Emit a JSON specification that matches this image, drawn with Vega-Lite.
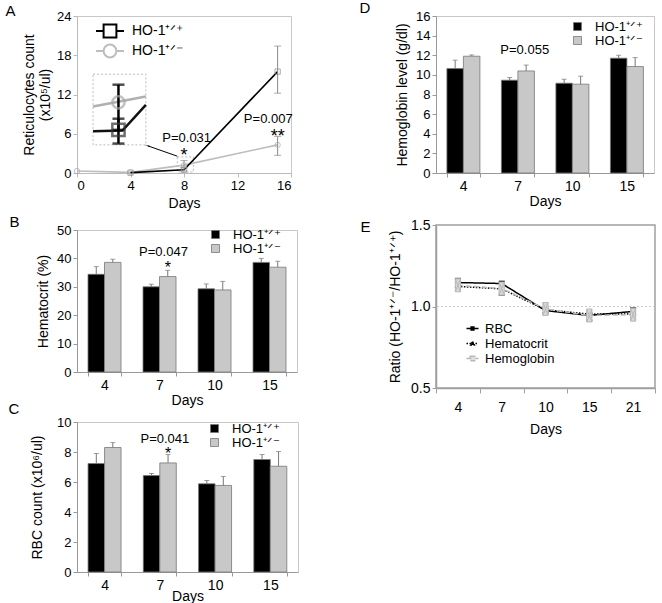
{
 "$schema": "https://vega.github.io/schema/vega-lite/v6.json",
 "background": "white",
 "padding": {"left": 5, "top": 0, "right": 5, "bottom": 0},
 "config": {
  "font": "Liberation Sans",
  "view": {"stroke": "#c8c8c8", "strokeWidth": 1},
  "axis": {"labelFontSize": 14, "titleFontSize": 14, "titleFontWeight": "normal", "labelColor": "#000", "titleColor": "#000", "domainColor": "#999", "tickColor": "#999", "grid": false, "tickSize": 4, "labelPadding": 2, "labelOverlap": false},
  "axisY": {"labelOverlap": false},
  "legend": {"labelFontSize": 14, "labelColor": "#000"},
  "title": {"fontSize": 15, "fontWeight": "normal", "anchor": "start", "frame": "bounds", "color": "#000"},
  "text": {"font": "Liberation Sans"}
 },
 "resolve": {"scale": {"color": "independent", "shape": "independent", "strokeDash": "independent"}},
 "datasets": {
  "retic": [
   {"day": 0, "group": "HO-1+/-", "value": 0.3},
   {"day": 4, "group": "HO-1+/+", "value": 0.05},
   {"day": 4, "group": "HO-1+/-", "value": 0.1},
   {"day": 8, "group": "HO-1+/+", "value": 0.5, "lower": 0.3, "upper": 0.8},
   {"day": 8, "group": "HO-1+/-", "value": 1.2, "lower": 0.8, "upper": 1.9},
   {"day": 15, "group": "HO-1+/+", "value": 15.5, "lower": 12.2, "upper": 19.4},
   {"day": 15, "group": "HO-1+/-", "value": 4.3, "lower": 2.7, "upper": 5.6}
  ],
  "inset_lines": [
   {"day": 1.2, "group": "HO-1+/-", "value": 10.15},
   {"day": 5.15, "group": "HO-1+/-", "value": 11.7},
   {"day": 1.2, "group": "HO-1+/+", "value": 6.4},
   {"day": 3.4, "group": "HO-1+/+", "value": 6.5},
   {"day": 5.15, "group": "HO-1+/+", "value": 10.4}
  ],
  "inset_points": [
   {"day": 3.1, "group": "HO-1+/-", "value": 10.8},
   {"day": 3.1, "group": "HO-1+/+", "value": 6.6}
  ],
  "inset_errors": [
   {"day": 3.1, "lower": 4.5, "upper": 13.5},
   {"day": 3.1, "lower": 6.6, "upper": 8.3}
  ],
  "inset_boxes": [
   {"day": 1.2, "day2": 5.15, "value": 4.3, "value2": 15.1},
   {"day": 7.5, "day2": 8.7, "value": 0.15, "value2": 2.46}
  ],
  "arrow": [
   {"day": 7.5, "value": 2.57, "day2": 5.3, "value2": 4.15}
  ],
  "notes_a": [
   {"day": 8.2, "value": 5.3, "label": "P=0.031"},
   {"day": 14.3, "value": 8.2, "label": "P=0.007"}
  ],
  "stars_a": [
   {"day": 8.0, "value": 3.9, "label": "*"},
   {"day": 15.0, "value": 6.9, "label": "**"}
  ],
  "hct": [
   {"day": "4", "group": "HO-1+/+", "mean": 34.4, "upper": 37.1},
   {"day": "4", "group": "HO-1+/-", "mean": 38.6, "upper": 39.7},
   {"day": "7", "group": "HO-1+/+", "mean": 30.0, "upper": 30.9},
   {"day": "7", "group": "HO-1+/-", "mean": 33.6, "upper": 35.8},
   {"day": "10", "group": "HO-1+/+", "mean": 29.3, "upper": 31.0},
   {"day": "10", "group": "HO-1+/-", "mean": 28.9, "upper": 31.9},
   {"day": "15", "group": "HO-1+/+", "mean": 38.6, "upper": 40.0},
   {"day": "15", "group": "HO-1+/-", "mean": 36.9, "upper": 39.0}
  ],
  "rbc": [
   {"day": "4", "group": "HO-1+/+", "mean": 7.23, "upper": 7.9},
   {"day": "4", "group": "HO-1+/-", "mean": 8.3, "upper": 8.63},
   {"day": "7", "group": "HO-1+/+", "mean": 6.43, "upper": 6.57},
   {"day": "7", "group": "HO-1+/-", "mean": 7.27, "upper": 7.83},
   {"day": "10", "group": "HO-1+/+", "mean": 5.88, "upper": 6.1},
   {"day": "10", "group": "HO-1+/-", "mean": 5.77, "upper": 6.37},
   {"day": "15", "group": "HO-1+/+", "mean": 7.5, "upper": 7.83},
   {"day": "15", "group": "HO-1+/-", "mean": 7.05, "upper": 8.03}
  ],
  "hgb": [
   {"day": "4", "group": "HO-1+/+", "mean": 10.64, "upper": 11.5},
   {"day": "4", "group": "HO-1+/-", "mean": 11.9, "upper": 12.03},
   {"day": "7", "group": "HO-1+/+", "mean": 9.46, "upper": 9.73},
   {"day": "7", "group": "HO-1+/-", "mean": 10.4, "upper": 11.0},
   {"day": "10", "group": "HO-1+/+", "mean": 9.15, "upper": 9.56},
   {"day": "10", "group": "HO-1+/-", "mean": 9.05, "upper": 9.87},
   {"day": "15", "group": "HO-1+/+", "mean": 11.7, "upper": 12.0},
   {"day": "15", "group": "HO-1+/-", "mean": 10.85, "upper": 11.76}
  ],
  "ratio": [
   {"day": "4", "measure": "RBC", "value": 1.147, "lower": 1.12, "upper": 1.17},
   {"day": "7", "measure": "RBC", "value": 1.141, "lower": 1.072, "upper": 1.153},
   {"day": "10", "measure": "RBC", "value": 0.975, "lower": 0.96, "upper": 0.99},
   {"day": "15", "measure": "RBC", "value": 0.945, "lower": 0.914, "upper": 0.96},
   {"day": "21", "measure": "RBC", "value": 0.97, "lower": 0.95, "upper": 0.99},
   {"day": "4", "measure": "Hematocrit", "value": 1.123},
   {"day": "7", "measure": "Hematocrit", "value": 1.108},
   {"day": "10", "measure": "Hematocrit", "value": 0.98},
   {"day": "15", "measure": "Hematocrit", "value": 0.953},
   {"day": "21", "measure": "Hematocrit", "value": 0.955},
   {"day": "4", "measure": "Hemoglobin", "value": 1.13},
   {"day": "7", "measure": "Hemoglobin", "value": 1.11},
   {"day": "10", "measure": "Hemoglobin", "value": 0.985},
   {"day": "15", "measure": "Hemoglobin", "value": 0.945},
   {"day": "21", "measure": "Hemoglobin", "value": 0.95}
  ]
 },
 "hconcat": [
  {
   "spacing": 57,
   "bounds": "flush",
   "resolve": {"scale": {"color": "independent", "shape": "independent"}},
   "vconcat": [
    {
     "width": 214, "height": 157,
     "title": {"text": "A", "dx": -17, "offset": -9},
     "encoding": {
      "x": {"field": "day", "type": "quantitative", "title": "Days", "scale": {"domain": [0, 16]}, "axis": {"values": [0, 4, 8, 12, 16], "domainColor": "#bbb", "tickColor": "#bbb", "titlePadding": 4, "labelFontSize": 13, "labelOverlap": false}},
      "y": {"field": "value", "type": "quantitative", "title": ["Reticulocytes count", "(x10⁵/ul)"], "scale": {"domain": [0, 24]}, "axis": {"values": [0, 6, 12, 18, 24], "domainColor": "#bbb", "tickColor": "#bbb", "titlePadding": 4, "labelFontSize": 13, "labelOverlap": false}}
     },
     "layer": [
      {
       "data": {"name": "inset_boxes"},
       "mark": {"type": "rect", "fill": null, "stroke": "#aaa", "strokeWidth": 0.8, "strokeDash": [2, 2]},
       "encoding": {
        "x2": {"field": "day2"},
        "y2": {"field": "value2"}
       }
      },
      {
       "data": {"name": "retic"},
       "mark": {"type": "line", "strokeWidth": 1.6},
       "encoding": {
        "color": {"field": "group", "type": "nominal", "scale": {"domain": ["HO-1+/+", "HO-1+/-"], "range": ["#000000", "#bdbdbd"]},
         "legend": {"orient": "none", "legendX": 24, "legendY": 6, "title": null, "symbolSize": 256, "symbolStrokeWidth": 2, "labelOffset": 13, "rowPadding": -10, "labelFontSize": 14,
          "labelExpr": "datum.label == 'HO-1+/+' ? 'HO-1⁺ᐟ⁺' : 'HO-1⁺ᐟ⁻'",
          "encode": {"symbols": {"update": {"shape": {"signal": "datum.value == 'HO-1+/+' ? 'M-1.75,0H-0.8M0.8,0H1.75M-0.8,-0.8H0.8V0.8H-0.8Z' : 'M-1.75,0H-0.8M0.8,0H1.75M0.8,0A0.8,0.8,0,1,1,-0.8,0A0.8,0.8,0,1,1,0.8,0'"}, "fill": {"value": "transparent"}, "strokeWidth": {"value": 2}}}}}}
       }
      },
      {
       "data": {"name": "retic"},
       "mark": {"type": "errorbar", "ticks": {"size": 7}, "color": "#888"},
       "encoding": {
        "y": {"field": "lower", "type": "quantitative", "title": ["Reticulocytes count", "(x10⁵/ul)"]},
        "y2": {"field": "upper"}
       }
      },
      {
       "data": {"name": "retic"},
       "transform": [{"filter": "datum.group == 'HO-1+/+'"}],
       "mark": {"type": "point", "shape": "square", "size": 28, "filled": false, "strokeWidth": 1, "color": "#888"}
      },
      {
       "data": {"name": "retic"},
       "transform": [{"filter": "datum.group == 'HO-1+/-'"}],
       "mark": {"type": "point", "shape": "circle", "size": 28, "filled": false, "strokeWidth": 1, "color": "#aaa"}
      },
      {
       "data": {"name": "inset_lines"},
       "transform": [{"filter": "datum.group == 'HO-1+/-'"}],
       "mark": {"type": "line", "strokeWidth": 2.5, "color": "#b0b0b0"}
      },
      {
       "data": {"name": "inset_lines"},
       "transform": [{"filter": "datum.group == 'HO-1+/+'"}],
       "mark": {"type": "line", "strokeWidth": 2.5, "color": "#111"}
      },
      {
       "data": {"name": "inset_errors"},
       "mark": {"type": "errorbar", "ticks": {"size": 12, "thickness": 2.5}, "rule": {"strokeWidth": 2.5}, "color": "#000"},
       "encoding": {
        "y": {"field": "lower", "type": "quantitative", "title": ["Reticulocytes count", "(x10⁵/ul)"]},
        "y2": {"field": "upper"}
       }
      },
      {
       "data": {"name": "inset_points"},
       "transform": [{"filter": "datum.group == 'HO-1+/-'"}],
       "mark": {"type": "point", "shape": "circle", "size": 150, "filled": false, "strokeWidth": 2.5, "color": "#a8a8a8"}
      },
      {
       "data": {"name": "inset_points"},
       "transform": [{"filter": "datum.group == 'HO-1+/+'"}],
       "mark": {"type": "point", "shape": "square", "size": 150, "filled": false, "strokeWidth": 2.5, "color": "#333"}
      },
      {
       "data": {"name": "arrow"},
       "mark": {"type": "rule", "color": "#000", "strokeWidth": 1},
       "encoding": {
        "x2": {"field": "day2"},
        "y2": {"field": "value2"}
       }
      },
      {
       "data": {"name": "arrow"},
       "mark": {"type": "point", "shape": "wedge", "size": 40, "filled": true, "color": "#000", "angle": 288},
       "encoding": {
        "x": {"field": "day2", "type": "quantitative", "title": "Days"},
        "y": {"field": "value2", "type": "quantitative", "title": ["Reticulocytes count", "(x10⁵/ul)"]}
       }
      },
      {
       "data": {"name": "notes_a"},
       "mark": {"type": "text", "fontSize": 13, "baseline": "middle", "align": "center"},
       "encoding": {
        "text": {"field": "label"}
       }
      },
      {
       "data": {"name": "stars_a"},
       "mark": {"type": "text", "fontSize": 18, "baseline": "top", "align": "center"},
       "encoding": {
        "text": {"field": "label"}
       }
      }
     ]
    },
    {
     "spacing": 50,
     "bounds": "flush",
     "resolve": {"scale": {"color": "independent"}},
     "vconcat": [
      {
       "width": 220, "height": 142,
       "title": {"text": "B", "dx": -27, "offset": -6},
       "data": {"name": "hct"},
       "encoding": {
        "x": {"field": "day", "type": "ordinal", "sort": ["4", "7", "10", "15"], "scale": {"paddingInner": 0.4, "paddingOuter": 0.2}, "axis": {"title": "Days", "labelAngle": 0, "tickBand": "extent", "titlePadding": 1}},
        "y": {"field": "mean", "type": "quantitative", "title": "Hematocrit (%)", "scale": {"domain": [0, 50]}, "axis": {"values": [0, 10, 20, 30, 40, 50], "titlePadding": 6, "labelOverlap": false, "labelFontSize": 13}}
       },
       "layer": [
        {
         "mark": {"type": "bar", "stroke": "#777", "strokeWidth": 0.8},
         "encoding": {
          "xOffset": {"field": "group", "type": "nominal", "sort": ["HO-1+/+", "HO-1+/-"]},
          "color": {"field": "group", "type": "nominal", "scale": {"domain": ["HO-1+/+", "HO-1+/-"], "range": ["#000000", "#c8c8c8"]},
           "legend": {"orient": "none", "legendX": 132, "legendY": -2, "title": null, "symbolType": "square", "symbolSize": 64, "symbolStrokeColor": "#777", "symbolStrokeWidth": 0.8, "labelOffset": 11, "labelFontSize": 13, "rowPadding": -1,
            "labelExpr": "datum.label == 'HO-1+/+' ? 'HO-1⁺ᐟ⁺' : 'HO-1⁺ᐟ⁻'"}}
         }
        },
        {
         "mark": {"type": "rule", "color": "#777"},
         "encoding": {
          "xOffset": {"field": "group", "type": "nominal", "sort": ["HO-1+/+", "HO-1+/-"]},
          "y2": {"field": "upper"}
         }
        },
        {
         "mark": {"type": "tick", "color": "#777", "size": 5, "thickness": 1},
         "encoding": {
          "xOffset": {"field": "group", "type": "nominal", "sort": ["HO-1+/+", "HO-1+/-"]},
          "y": {"field": "upper", "type": "quantitative", "title": "Hematocrit (%)", "scale": {"domain": [0, 50]}, "axis": {"values": [0, 10, 20, 30, 40, 50], "titlePadding": 6, "labelOverlap": false, "labelFontSize": 13}}
         }
        },
        {
         "data": {"values": [{"day": "7", "mean": 42.3, "label": "P=0.047"}]},
         "mark": {"type": "text", "fontSize": 13, "baseline": "middle", "dx": 4},
         "encoding": {
          "text": {"field": "label"}
         }
        },
        {
         "data": {"values": [{"day": "7", "group": "HO-1+/-", "mean": 39.3, "label": "*"}]},
         "mark": {"type": "text", "fontSize": 16, "baseline": "top"},
         "encoding": {
          "xOffset": {"field": "group", "type": "nominal", "sort": ["HO-1+/+", "HO-1+/-"]},
          "text": {"field": "label"}
         }
        }
       ]
      },
      {
       "width": 221, "height": 150,
       "title": {"text": "C", "dx": -22, "offset": -1},
       "data": {"name": "rbc"},
       "encoding": {
        "x": {"field": "day", "type": "ordinal", "sort": ["4", "7", "10", "15"], "scale": {"paddingInner": 0.4, "paddingOuter": 0.2}, "axis": {"title": "Days", "labelAngle": 0, "tickBand": "extent", "titlePadding": -3}},
        "y": {"field": "mean", "type": "quantitative", "title": "RBC count  (x10⁶/ul)", "scale": {"domain": [0, 10]}, "axis": {"values": [0, 2, 4, 6, 8, 10], "titlePadding": 12, "labelOverlap": false, "labelFontSize": 13}}
       },
       "layer": [
        {
         "mark": {"type": "bar", "stroke": "#777", "strokeWidth": 0.8},
         "encoding": {
          "xOffset": {"field": "group", "type": "nominal", "sort": ["HO-1+/+", "HO-1+/-"]},
          "color": {"field": "group", "type": "nominal", "scale": {"domain": ["HO-1+/+", "HO-1+/-"], "range": ["#000000", "#c8c8c8"]},
           "legend": {"orient": "none", "legendX": 131, "legendY": 0, "title": null, "symbolType": "square", "symbolSize": 64, "symbolStrokeColor": "#777", "symbolStrokeWidth": 0.8, "labelOffset": 11, "labelFontSize": 13, "rowPadding": -1,
            "labelExpr": "datum.label == 'HO-1+/+' ? 'HO-1⁺ᐟ⁺' : 'HO-1⁺ᐟ⁻'"}}
         }
        },
        {
         "mark": {"type": "rule", "color": "#777"},
         "encoding": {
          "xOffset": {"field": "group", "type": "nominal", "sort": ["HO-1+/+", "HO-1+/-"]},
          "y2": {"field": "upper"}
         }
        },
        {
         "mark": {"type": "tick", "color": "#777", "size": 5, "thickness": 1},
         "encoding": {
          "xOffset": {"field": "group", "type": "nominal", "sort": ["HO-1+/+", "HO-1+/-"]},
          "y": {"field": "upper", "type": "quantitative", "title": "RBC count  (x10⁶/ul)", "scale": {"domain": [0, 10]}, "axis": {"values": [0, 2, 4, 6, 8, 10], "titlePadding": 12, "labelOverlap": false, "labelFontSize": 13}}
         }
        },
        {
         "data": {"values": [{"day": "7", "mean": 8.9, "label": "P=0.041"}]},
         "mark": {"type": "text", "fontSize": 13, "baseline": "middle", "dx": 5},
         "encoding": {
          "text": {"field": "label"}
         }
        },
        {
         "data": {"values": [{"day": "7", "group": "HO-1+/-", "mean": 8.4, "label": "*"}]},
         "mark": {"type": "text", "fontSize": 16, "baseline": "top"},
         "encoding": {
          "xOffset": {"field": "group", "type": "nominal", "sort": ["HO-1+/+", "HO-1+/-"]},
          "text": {"field": "label"}
         }
        }
       ]
      }
     ]
    }
   ]
  },
  {
   "spacing": 52,
   "bounds": "flush",
   "resolve": {"scale": {"color": "independent", "shape": "independent", "strokeDash": "independent"}},
   "vconcat": [
    {
     "width": 218, "height": 157,
     "title": {"text": "D", "dx": -36, "offset": -6},
     "data": {"name": "hgb"},
     "encoding": {
      "x": {"field": "day", "type": "ordinal", "sort": ["4", "7", "10", "15"], "scale": {"paddingInner": 0.4, "paddingOuter": 0.2}, "axis": {"title": "Days", "labelAngle": 0, "tickBand": "extent", "titlePadding": 1}},
      "y": {"field": "mean", "type": "quantitative", "title": "Hemoglobin level (g/dl)", "scale": {"domain": [0, 16]}, "axis": {"values": [0, 2, 4, 6, 8, 10, 12, 14, 16], "titlePadding": 6, "labelOverlap": false, "labelFontSize": 13}}
     },
     "layer": [
      {
       "mark": {"type": "bar", "stroke": "#777", "strokeWidth": 0.8},
       "encoding": {
        "xOffset": {"field": "group", "type": "nominal", "sort": ["HO-1+/+", "HO-1+/-"]},
        "color": {"field": "group", "type": "nominal", "scale": {"domain": ["HO-1+/+", "HO-1+/-"], "range": ["#000000", "#c8c8c8"]},
         "legend": {"orient": "none", "legendX": 135, "legendY": 4, "title": null, "symbolType": "square", "symbolSize": 64, "symbolStrokeColor": "#777", "symbolStrokeWidth": 0.8, "labelOffset": 11, "labelFontSize": 13, "rowPadding": 0,
          "labelExpr": "datum.label == 'HO-1+/+' ? 'HO-1⁺ᐟ⁺' : 'HO-1⁺ᐟ⁻'"}}
       }
      },
      {
       "mark": {"type": "rule", "color": "#777"},
       "encoding": {
        "xOffset": {"field": "group", "type": "nominal", "sort": ["HO-1+/+", "HO-1+/-"]},
        "y2": {"field": "upper"}
       }
      },
      {
       "mark": {"type": "tick", "color": "#777", "size": 5, "thickness": 1},
       "encoding": {
        "xOffset": {"field": "group", "type": "nominal", "sort": ["HO-1+/+", "HO-1+/-"]},
        "y": {"field": "upper", "type": "quantitative", "title": "Hemoglobin level (g/dl)", "scale": {"domain": [0, 16]}, "axis": {"values": [0, 2, 4, 6, 8, 10, 12, 14, 16], "titlePadding": 6, "labelOverlap": false, "labelFontSize": 13}}
       }
      },
      {
       "data": {"values": [{"day": "7", "mean": 12.52, "label": "P=0.055"}]},
       "mark": {"type": "text", "fontSize": 13, "baseline": "middle", "dx": 7},
       "encoding": {
        "text": {"field": "label"}
       }
      }
     ]
    },
    {
     "width": 219, "height": 163,
     "title": {"text": "E", "dx": -28, "offset": -17},
     "view": {"stroke": "#a0a0a0", "strokeWidth": 1.5},
     "data": {"name": "ratio"},
     "encoding": {
      "x": {"field": "day", "type": "ordinal", "sort": ["4", "7", "10", "15", "21"], "scale": {"type": "band", "paddingInner": 0, "paddingOuter": 0}, "axis": {"title": "Days", "labelAngle": 0, "tickBand": "extent", "labelPadding": 7, "tickSize": 5, "titlePadding": 8, "domainWidth": 1.5, "domainColor": "#a0a0a0", "tickColor": "#a0a0a0"}},
      "y": {"field": "value", "type": "quantitative", "title": "Ratio (HO-1⁺ᐟ⁻/HO-1⁺ᐟ⁺)", "scale": {"domain": [0.5, 1.5], "zero": false}, "axis": {"values": [0.5, 1.0, 1.5], "format": ".1f", "titlePadding": 8, "labelOverlap": false, "domainWidth": 1.5, "domainColor": "#a0a0a0", "tickColor": "#a0a0a0"}}
     },
     "layer": [
      {
       "data": {"values": [{"value": 1.0}]},
       "mark": {"type": "rule", "color": "#c0c0c0", "strokeDash": [2, 2], "strokeWidth": 0.8},
       "encoding": {
        "x": null
       }
      },
      {
       "mark": {"type": "line", "strokeWidth": 1.5},
       "encoding": {
        "color": {"field": "measure", "type": "nominal", "scale": {"domain": ["RBC", "Hematocrit", "Hemoglobin"], "range": ["#000000", "#000000", "#b8b8b8"]},
         "legend": {"orient": "none", "legendX": 30, "legendY": 97, "title": null, "symbolSize": 64, "labelOffset": 6, "labelFontSize": 13, "rowPadding": 1,
          "encode": {"symbols": {"update": {"shape": {"signal": "datum.value == 'Hematocrit' ? 'M-1.5,0H1.5M0,-0.5L0.45,0.35H-0.45Z' : datum.value == 'RBC' ? 'M-1.5,0H1.5M-0.35,-0.35H0.35V0.35H-0.35Z' : 'M-1.5,0H1.5M-0.55,-0.55H0.55V0.55H-0.55Z'"}, "fill": {"signal": "datum.value == 'Hemoglobin' ? '#e0e0e0' : '#000'"}, "strokeWidth": {"value": 1.5}}}}}},
        "strokeDash": {"field": "measure", "type": "nominal", "scale": {"domain": ["RBC", "Hematocrit", "Hemoglobin"], "range": [[1, 0], [1.5, 1.5], [5, 3]]}}
       }
      },
      {
       "transform": [{"filter": "datum.measure == 'RBC'"}],
       "mark": {"type": "errorbar", "ticks": {"size": 6, "thickness": 2}, "color": "#000"},
       "encoding": {
        "y": {"field": "lower", "type": "quantitative", "title": "Ratio (HO-1⁺ᐟ⁻/HO-1⁺ᐟ⁺)", "scale": {"domain": [0.5, 1.5], "zero": false}},
        "y2": {"field": "upper"}
       }
      },
      {
       "transform": [{"filter": "datum.measure == 'RBC'"}],
       "mark": {"type": "point", "shape": "square", "filled": true, "size": 25, "color": "#000"}
      },
      {
       "transform": [{"filter": "datum.measure == 'Hematocrit'"}],
       "mark": {"type": "point", "shape": "triangle-up", "filled": true, "size": 25, "color": "#000"}
      },
      {
       "transform": [{"filter": "datum.measure == 'Hemoglobin'"}],
       "mark": {"type": "point", "shape": "M-0.4,-1H0.4V1H-0.4ZM-0.4,-1L0.4,1M0.4,-1L-0.4,1", "size": 169, "filled": true, "fill": "#d8d8d8", "stroke": "#b8b8b8", "strokeWidth": 1, "opacity": 1}
      }
     ]
    }
   ]
  }
 ],
 "spacing": 60
}
